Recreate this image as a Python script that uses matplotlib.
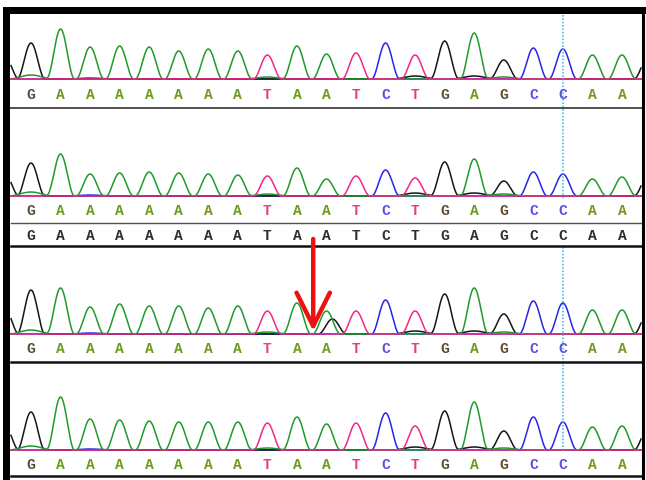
import numpy as np
import matplotlib.pyplot as plt

# called bases (same read in all four traces) and the reference row
bases = list("GAAAAAAATAATCTGAGCCAA")
ref_bases = list("GAAAAAAATAATCTGAGCCAA")

# peak heights per trace, one value per called base
peaks_1 = [36, 50, 32, 33, 32, 28, 30, 28, 24, 33, 25, 26, 36, 24, 38, 46, 19, 31, 30, 24, 24]
peaks_2 = [33, 42, 22, 23, 24, 23, 22, 21, 20, 28, 17, 20, 26, 18, 34, 37, 15, 24, 22, 17, 19]
peaks_3 = [44, 46, 27, 30, 28, 28, 26, 28, 23, 31, 23, 23, 34, 23, 40, 46, 20, 33, 31, 24, 24]
peaks_4 = [38, 53, 31, 30, 29, 28, 28, 28, 27, 33, 26, 27, 37, 24, 39, 48, 19, 33, 28, 23, 24]

# partial peaks cut off at the left / right edge (G channel)
flank_left = [22, 22, 25, 24]
flank_right = [22, 20, 22, 22]

# small secondary signal: (base position, channel, height)
minor_peaks = [(0, 'A', 4), (8, 'A', 2), (13, 'G', 3), (15, 'G', 3), (16, 'A', 2), (2, 'C', 1)]

# second peak under the mutated position in trace 3
mut_index = 10
het_peak = (10.2, 'G', 15)

trace_color = {'A': '#1f9a2c', 'C': '#2626e8', 'G': '#161616', 'T': '#f0288c'}
letter_color = {'A': '#6e9c1a', 'C': '#5a4ee8', 'G': '#5e4a33', 'T': '#e2407e'}

W, H = 646, 480
fig = plt.figure(figsize=(W / 100, H / 100), dpi=100)
ax = fig.add_axes([0, 0, 1, 1])
ax.set_xlim(0, W)
ax.set_ylim(H, 0)
ax.axis('off')

x0, step = 31, 29.55          # pixel x of first base, spacing between bases
left, right = 11, 641
half_w = 14.0                  # half width of a peak at its foot, px
xs = np.linspace(left, right, 2000)


def bump(center, height, w=half_w):
    d = np.abs(xs - center) / w
    return np.where(d < 1, height * np.cos(0.5 * np.pi * d) ** 2, 0.0)


def bx(i):
    return x0 + i * step


panels = [
    (peaks_1, 79, 95),
    (peaks_2, 196, 211),
    (peaks_3, 334, 349),
    (peaks_4, 450, 465),
]

for k, (heights, base_y, letter_y) in enumerate(panels):
    for ch in ['C', 'G', 'A', 'T']:
        sig = np.zeros_like(xs)
        for i, (b, h) in enumerate(zip(bases, heights)):
            if b == ch:
                sig += bump(bx(i), h)
        for pos, c, h in minor_peaks:
            if c == ch:
                sig += bump(bx(pos), h, half_w * 1.6)
        if ch == 'G':
            sig += bump(bx(-0.88), flank_left[k])
            sig += bump(bx(20.88), flank_right[k])
        if k == 2 and het_peak[1] == ch:
            sig += bump(bx(het_peak[0]), het_peak[2])
        ax.plot(xs, base_y - sig, color=trace_color[ch], lw=1.1,
                solid_joinstyle='round')

    for i, b in enumerate(bases):
        ax.text(bx(i), letter_y, b, ha='center', va='center',
                family='Liberation Mono', weight='bold', fontsize=10.5,
                color=letter_color[b])

# reference sequence under trace 2
for i, b in enumerate(ref_bases):
    ax.text(bx(i), 236, b, ha='center', va='center',
            family='Liberation Mono', weight='bold', fontsize=10.5,
            color='#2e2e2e')

# cursor line through the C at position 18
ax.plot([bx(18), bx(18)], [15, 200], color='#30b0f0', lw=1.1, ls=(0, (1, 1.2)))
ax.plot([bx(18), bx(18)], [247, 452], color='#30b0f0', lw=1.1, ls=(0, (1, 1.2)))

# panel separators
ax.plot([left, right], [107.5, 107.5], color='#505050', lw=1.4)
ax.plot([left, right], [223, 223], color='#505050', lw=1.0)
ax.plot([left, right], [246, 246], color='#111111', lw=1.8)
ax.plot([left, right], [362, 362], color='#111111', lw=1.8)
ax.plot([left, right], [476, 476], color='#111111', lw=1.8)

# outer frame
ax.add_patch(plt.Rectangle((3, 7), W - 3, 7, color='black', lw=0))
ax.add_patch(plt.Rectangle((3, 7), 7, H - 7, color='black', lw=0))
ax.plot([642.5, 642.5], [14, 478], color='black', lw=2.2)

# mutation arrow in trace 3
ax_x = bx(mut_index - 0.45)
ax.annotate('', xy=(ax_x, 331), xytext=(ax_x, 239),
            arrowprops=dict(arrowstyle='->,head_length=1.2,head_width=0.6',
                            color='#ee1111', lw=3.2, mutation_scale=20,
                            shrinkA=0, shrinkB=0))

fig.savefig('out.png', dpi=100)
